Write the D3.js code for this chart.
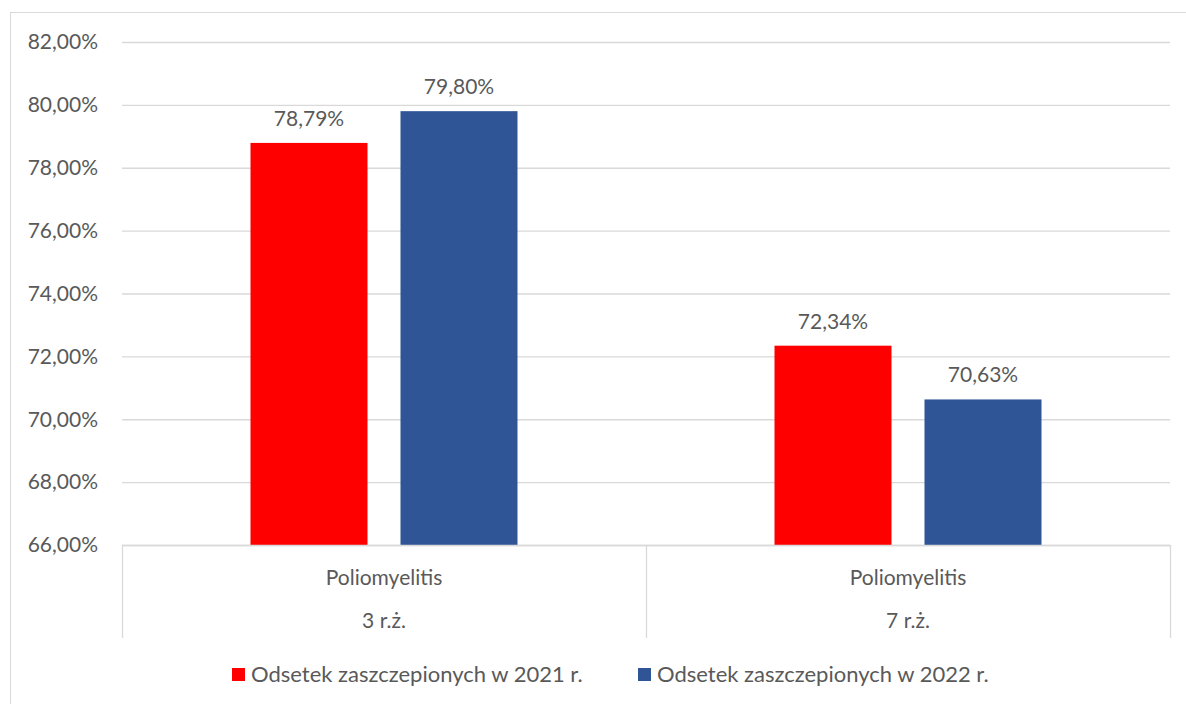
<!DOCTYPE html>
<meta charset="utf-8">
<head>
    <title>Poliomyelitis</title>
</head>
<style>
    body { margin: 0; background: #fff; }
    text { font-family: Lato, "Open Sans", sans-serif; fill: #595959; }
</style>
<div id="chart"></div>
<script src="https://d3js.org/d3.v7.min.js"></script>
<script>

    // data
    var groups = ["3 r.ż.", "7 r.ż."];
    var groupTop = ["Poliomyelitis", "Poliomyelitis"];
    var seriesNames = ["Odsetek zaszczepionych w 2021 r.", "Odsetek zaszczepionych w 2022 r."];
    var values2021 = [78.79, 72.34];
    var values2022 = [79.80, 70.63];
    var yTicks = [66, 68, 70, 72, 74, 76, 78, 80, 82];
    var colors = ["#ff0000", "#2f5597"];

    var W = 1186, H = 704;
    var margin = {top: 42, left: 122, right: 16, bottom: 159};
    var width = W - margin.left - margin.right,
        height = H - margin.top - margin.bottom;
    var fs = "21px";

    var svg = d3.select("#chart")
      .append("svg")
        .attr("width", W)
        .attr("height", H);

    // outer chart frame (runs past the picture edge)
    svg.append("rect")
        .attr("x", 10.5).attr("y", 12.5)
        .attr("width", W + 20).attr("height", H + 20)
        .attr("fill", "none")
        .attr("stroke", "#d9d9d9");

    var g = svg.append("g")
        .attr("transform", "translate(" + margin.left + "," + margin.top + ")");

    var x = d3.scaleBand().domain(groups).range([0, width]);
    var y = d3.scaleLinear().domain([66, 82]).range([height, 0]);

    var fmt = function(v) { return v.toFixed(2).replace(".", ",") + "%"; };

    // gridlines
    g.selectAll(".grid")
      .data(yTicks)
      .enter().append("line")
        .attr("x1", 0).attr("x2", width)
        .attr("y1", function(d) { return y(d) + 0.5; })
        .attr("y2", function(d) { return y(d) + 0.5; })
        .attr("stroke", "#d9d9d9")
        .attr("stroke-width", 1.3);

    // y labels
    g.selectAll(".ylab")
      .data(yTicks)
      .enter().append("text")
        .attr("x", -24)
        .attr("y", function(d) { return y(d); })
        .attr("dy", "0.35em")
        .attr("text-anchor", "end")
        .style("font-size", fs)
        .text(fmt);

    // bars
    var inner = d3.scaleBand().domain([0, 1])
        .range([128.5, x.bandwidth() - 128.5])
        .paddingInner(33 / 267 * 2 / (1 + 33 / 267));
    var series = [values2021, values2022];

    series.forEach(function(vals, si) {
        g.selectAll(".bar" + si)
          .data(groups)
          .enter().append("rect")
            .attr("x", function(d) { return x(d) + inner(si); })
            .attr("y", function(d, i) { return y(vals[i]); })
            .attr("width", inner.bandwidth())
            .attr("height", function(d, i) { return height - y(vals[i]); })
            .attr("fill", colors[si]);

        g.selectAll(".lab" + si)
          .data(groups)
          .enter().append("text")
            .attr("x", function(d) { return x(d) + inner(si) + inner.bandwidth() / 2; })
            .attr("y", function(d, i) { return y(vals[i]) - 17; })
            .attr("text-anchor", "middle")
            .style("font-size", fs)
            .text(function(d, i) { return fmt(vals[i]); });
    });

    // category axis (two levels)
    g.append("line")
        .attr("x1", 0).attr("x2", width)
        .attr("y1", height + 0.5).attr("y2", height + 0.5)
        .attr("stroke", "#d9d9d9").attr("stroke-width", 1.3);

    var seps = [0, width / 2, width];
    g.selectAll(".sep")
      .data(seps)
      .enter().append("line")
        .attr("x1", function(d) { return d + 0.5; })
        .attr("x2", function(d) { return d + 0.5; })
        .attr("y1", height)
        .attr("y2", height + 93)
        .attr("stroke", "#d9d9d9").attr("stroke-width", 1.3);

    g.selectAll(".cat1")
      .data(groups)
      .enter().append("text")
        .attr("x", function(d) { return x(d) + x.bandwidth() / 2; })
        .attr("y", height + 33)
        .attr("dy", "0.35em")
        .attr("text-anchor", "middle")
        .style("font-size", fs)
        .text(function(d, i) { return groupTop[i]; });

    g.selectAll(".cat2")
      .data(groups)
      .enter().append("text")
        .attr("x", function(d) { return x(d) + x.bandwidth() / 2; })
        .attr("y", height + 76)
        .attr("dy", "0.35em")
        .attr("text-anchor", "middle")
        .style("font-size", fs)
        .text(function(d) { return d; });

    // legend
    var legendX = [232, 638];
    var legend = svg.selectAll(".legend")
      .data(seriesNames)
      .enter().append("g")
        .attr("transform", function(d, i) { return "translate(" + legendX[i] + ",668)"; });

    legend.append("rect")
        .attr("width", 13).attr("height", 13)
        .attr("fill", function(d, i) { return colors[i]; });

    legend.append("text")
        .attr("x", 19)
        .attr("y", 6.5)
        .attr("dy", "0.35em")
        .style("font-size", "22px")
        .text(function(d) { return d; });

</script>
